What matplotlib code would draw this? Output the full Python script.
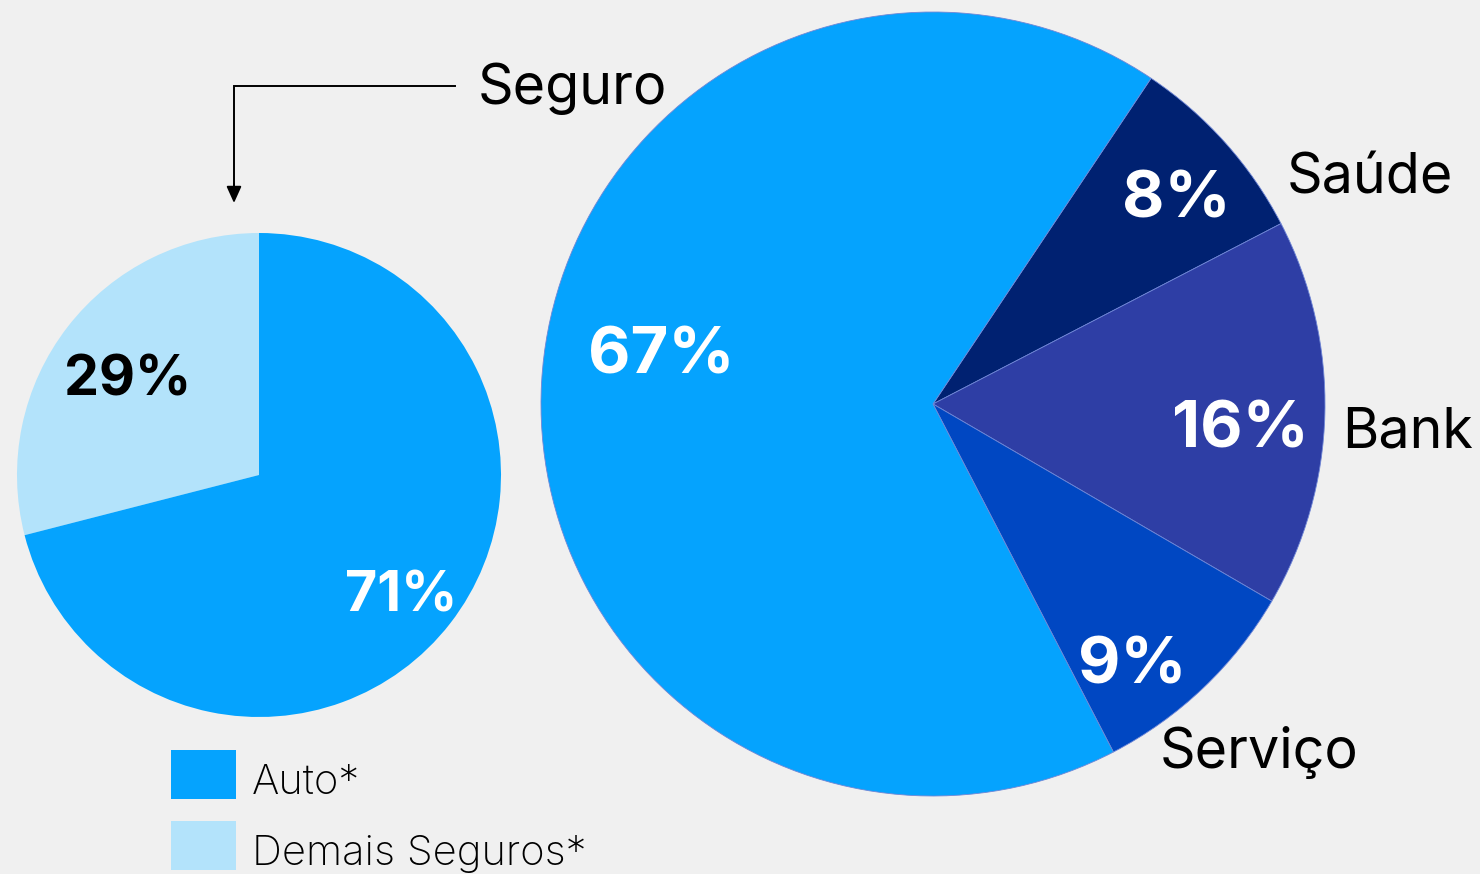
import matplotlib
matplotlib.use("Agg")
import matplotlib.pyplot as plt
from matplotlib.patches import Rectangle

plt.rcParams['font.family'] = ['Inter', 'DejaVu Sans']

# data
seguro_labels = ["Demais Seguros*", "Auto*"]
seguro_values = [29, 71]
seguro_colors = ["#b3e3fb", "#05a3fe"]

mix_labels = ["Saúde", "Bank", "Serviço", "Seguro"]
mix_values = [8, 16, 9, 67]
mix_colors = ["#002171", "#2e3ea5", "#0047c2", "#05a3fe"]

W, H = 1480, 874
BG = "#f0f0f0"
fig = plt.figure(figsize=(W / 100, H / 100), dpi=100, facecolor=BG)


def pie_axes(cx, cy, r):
    ax = fig.add_axes([(cx - r) / W, 1 - (cy + r) / H, 2 * r / W, 2 * r / H])
    return ax


def fix(ax):
    # pie() resets limits to +-1.25, put them back so radius fills the box
    ax.set_xlim(-1, 1)
    ax.set_ylim(-1, 1)
    ax.axis("off")


# small pie: Seguro breakdown
ax1 = pie_axes(259, 475, 242)
ax1.pie(seguro_values, colors=seguro_colors, startangle=90, radius=1,
        wedgeprops=dict(linewidth=0))
fix(ax1)

# big pie: business mix
ax2 = pie_axes(933, 404, 392)
ax2.pie(mix_values, colors=mix_colors, startangle=56.2, counterclock=False,
        radius=1, wedgeprops=dict(linewidth=0.6, edgecolor="#6f86d6"))
fix(ax2)

# overlay in pixel coords for labels / legend / arrow
ov = fig.add_axes([0, 0, 1, 1], facecolor="none")
ov.set_xlim(0, W)
ov.set_ylim(H, 0)
ov.axis("off")

# percentage labels (left x, baseline y)
pct_pos_small = [(64, 396, "black"), (345, 612, "white")]
for v, (x, y, c) in zip(seguro_values, pct_pos_small):
    ov.text(x, y, f"{v}%", fontsize=40, fontweight="bold", color=c,
            ha="left", va="baseline")

pct_pos_big = [(1122, 217), (1172, 447), (1078, 683), (588, 373)]
for v, (x, y) in zip(mix_values, pct_pos_big):
    ov.text(x, y, f"{v}%", fontsize=47, fontweight="bold", color="white",
            ha="left", va="baseline")

# category names
name_pos = [(1287, 193), (1342, 447), (1160, 768), (478, 104)]
for lab, (x, y) in zip(mix_labels, name_pos):
    ov.text(x, y, lab, fontsize=40, color="black", ha="left", va="baseline")

# arrow from "Seguro" to small pie
ov.plot([455, 234, 234], [86, 86, 190], color="black", lw=1.4,
        solid_joinstyle="miter")
ov.annotate("", xy=(234, 203), xytext=(234, 184),
            arrowprops=dict(arrowstyle="-|>,head_length=1.0,head_width=0.45",
                            color="black", lw=1.4, shrinkA=0, shrinkB=0))

# legend
leg_y = [750, 821]
for lab, col, y in zip(seguro_labels[::-1], seguro_colors[::-1], leg_y):
    ov.add_patch(Rectangle((171, y), 65, 49, facecolor=col, edgecolor="none"))
    ov.text(252, y + 44, lab, fontsize=30, color="black",
            ha="left", va="baseline", fontweight="light")

fig.savefig("out.png", dpi=100, facecolor=BG)
